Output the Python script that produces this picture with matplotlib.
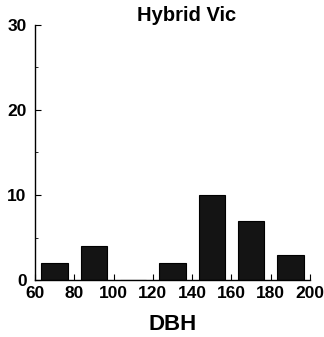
import matplotlib
matplotlib.use("Agg")
import matplotlib.pyplot as plt
from matplotlib.ticker import MultipleLocator

plt.rcParams['font.family'] = ['Liberation Sans', 'DejaVu Sans']

# DBH class centres and counts
dbh = [70, 90, 110, 130, 150, 170, 190]
antal = [2, 4, 0, 2, 10, 7, 3]

fig = plt.figure(figsize=(3.24, 3.37), dpi=100)
ax = fig.add_axes([0.108, 0.169, 0.849, 0.757])

ax.bar(dbh, antal, width=13.5, color='#141414', edgecolor='black', linewidth=0.8)

ax.set_xlim(60, 200)
ax.set_ylim(0, 30)
ax.set_xticks([60, 80, 100, 120, 140, 160, 180, 200])
ax.set_yticks([0, 10, 20, 30])
ax.yaxis.set_minor_locator(MultipleLocator(5))
ax.tick_params(axis='both', direction='in', labelsize=12.5, width=0.8, length=4)
ax.tick_params(axis='x', pad=4)
ax.tick_params(axis='y', pad=6)
ax.tick_params(axis='y', which='minor', direction='in', length=2)
for lab in ax.get_xticklabels() + ax.get_yticklabels():
    lab.set_fontweight('bold')

for s in ['top', 'right']:
    ax.spines[s].set_visible(False)
for s in ['left', 'bottom']:
    ax.spines[s].set_linewidth(1.0)

ax.set_title("Hybrid Vic", fontsize=14.5, fontweight='bold', pad=-2, x=0.55)
ax.set_xlabel("DBH", fontsize=16, fontweight='bold', labelpad=10)

fig.savefig("out.png", dpi=100)
